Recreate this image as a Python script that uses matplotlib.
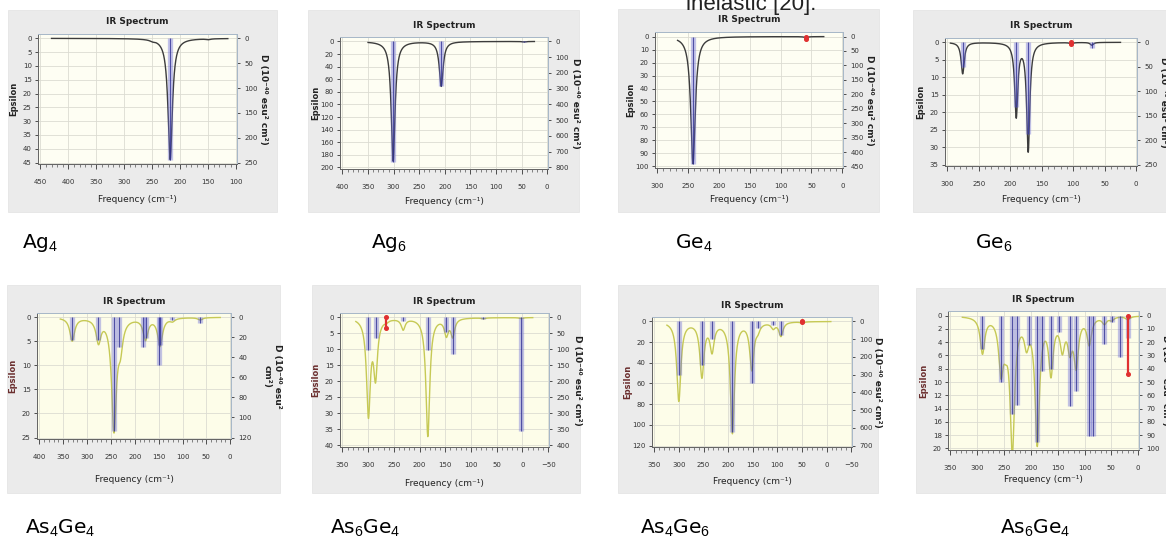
#IR spectra of small Ag, Ge and As-Ge clusters (8 panels, GaussView style)

import numpy as np
import matplotlib
matplotlib.use("Agg")
from matplotlib import pyplot as plt
from matplotlib.patches import Rectangle
from matplotlib.ticker import MultipleLocator

plt.rcParams['mathtext.fontset'] = 'custom'
plt.rcParams['mathtext.rm'] = 'Liberation Sans'
plt.rcParams['mathtext.it'] = 'Liberation Sans'

W, H = 1166, 545

# =============================================================================
# data
# curve peaks: frequency (cm-1), depth (epsilon); sticks: frequency, D value

# Ag4
ag4_peak_freq = [218, 250, 150]
ag4_peak_eps = [44.0, 0.4, 0.3]
ag4_gamma = 4.7
ag4_stick_freq = [218]
ag4_stick_d = [244]
ag4_red_freq = []
ag4_red_d = []
ag4_span = [430, 115]
ag4_xticks = [450, 400, 350, 300, 250, 200, 150, 100]
ag4_eps_ticks = [0, 5, 10, 15, 20, 25, 30, 35, 40, 45]
ag4_d_ticks = [0, 50, 100, 150, 200, 250]

# Ag6
ag6_peak_freq = [301, 207, 45]
ag6_peak_eps = [190.0, 71.0, 0.8]
ag6_gamma = 4.5
ag6_stick_freq = [301, 207, 45]
ag6_stick_d = [765, 285, 4]
ag6_red_freq = []
ag6_red_d = []
ag6_span = [350, 25]
ag6_xticks = [400, 350, 300, 250, 200, 150, 100, 50, 0]
ag6_eps_ticks = [0, 20, 40, 60, 80, 100, 120, 140, 160, 180, 200]
ag6_d_ticks = [0, 100, 200, 300, 400, 500, 600, 700, 800]

# Ge4
ge4_peak_freq = [242, 59]
ge4_peak_eps = [98.0, 0.6]
ge4_gamma = 4.4
ge4_stick_freq = [242]
ge4_stick_d = [440]
ge4_red_freq = [59]
ge4_red_d = [8]
ge4_span = [267, 30]
ge4_xticks = [300, 250, 200, 150, 100, 50, 0]
ge4_eps_ticks = [0, 10, 20, 30, 40, 50, 60, 70, 80, 90, 100]
ge4_d_ticks = [0, 50, 100, 150, 200, 250, 300, 350, 400, 450]

# Ge6
ge6_peak_freq = [275.5, 190.5, 171.5, 103, 70.5]
ge6_peak_eps = [9.0, 21.0, 31.0, 0.4, 0.8]
ge6_gamma = 3.0
ge6_stick_freq = [275.5, 190.5, 171.5, 70.5]
ge6_stick_d = [51, 133, 187, 12]
ge6_red_freq = [103]
ge6_red_d = [3]
ge6_span = [295, 25]
ge6_xticks = [300, 250, 200, 150, 100, 50, 0]
ge6_eps_ticks = [0, 5, 10, 15, 20, 25, 30, 35]
ge6_d_ticks = [0, 50, 100, 150, 200, 250]

# As4Ge4
as4ge4_peak_freq = [331, 276, 243.5, 230, 177.5, 147, 121, 63]
as4ge4_peak_eps = [4.8, 4.8, 23.0, 5.0, 4.4, 5.8, 0.6, 0.5]
as4ge4_gamma = 6.0
as4ge4_stick_freq = [331, 276, 243.5, 232, 182, 177.5, 150, 147, 121, 63]
as4ge4_stick_d = [23, 23, 113, 30, 30, 21, 48, 28, 3, 6]
as4ge4_red_freq = []
as4ge4_red_d = []
as4ge4_span = [356, 21]
as4ge4_xticks = [400, 350, 300, 250, 200, 150, 100, 50, 0]
as4ge4_eps_ticks = [0, 5, 10, 15, 20, 25]
as4ge4_d_ticks = [0, 20, 40, 60, 80, 100, 120]

# As6Ge4
as6ge4_peak_freq = [299.5, 285.7, 264.8, 232, 184, 148, 135.6, 76, 2.5]
as6ge4_peak_eps = [29.8, 17.5, 0.5, 3.4, 37.0, 5.0, 5.5, 0.3, 0.3]
as6ge4_gamma = 4.5
as6ge4_stick_freq = [299.5, 285.7, 232, 184, 148, 135.6, 76, 2.5]
as6ge4_stick_d = [102, 65, 10, 102, 44, 113, 5, 356]
as6ge4_red_freq = [264.8]
as6ge4_red_d = [34]
as6ge4_span = [324, -20]
as6ge4_xticks = [350, 300, 250, 200, 150, 100, 50, 0, -50]
as6ge4_eps_ticks = [0, 5, 10, 15, 20, 25, 30, 35, 40]
as6ge4_d_ticks = [0, 50, 100, 150, 200, 250, 300, 350, 400]

# As4Ge6
as4ge6_peak_freq = [300.3, 253.4, 232.8, 191.4, 152, 139.7, 108.6, 92.8, 50]
as4ge6_peak_eps = [76.5, 52.0, 26.5, 107.0, 45.0, 6.0, 5.5, 13.5, 1.0]
as4ge6_gamma = 5.0
as4ge6_stick_freq = [300.3, 253.4, 232.8, 191.4, 152, 139.7, 108.6, 92.8]
as4ge6_stick_d = [305, 248, 100, 625, 350, 40, 20, 79]
as4ge6_red_freq = [50]
as4ge6_red_d = [6]
as4ge6_span = [324.5, -8.6]
as4ge6_xticks = [350, 300, 250, 200, 150, 100, 50, 0, -50]
as4ge6_eps_ticks = [0, 20, 40, 60, 80, 100, 120]
as4ge6_d_ticks = [0, 100, 200, 300, 400, 500, 600, 700]

# As6Ge4 (second isomer)
as6ge4b_peak_freq = [290, 255.6, 247, 234.4, 208, 188, 162.5, 141.3, 127.3, 115.6, 91.2, 62.9, 49.4, 19.3]
as6ge4b_peak_eps = [5.4, 7.6, 2.5, 19.8, 3.5, 18.8, 8.1, 4.4, 4.3, 7.0, 4.0, 1.0, 0.5, 0.5]
as6ge4b_gamma = 5.0
as6ge4b_stick_freq = [290, 255.6, 234.4, 226, 202.7, 188, 178.5, 162.5, 147, 127.3, 115.6, 91.2, 83.5, 62.9, 49.4, 34, 19.3]
as6ge4b_stick_d = [25, 50, 74, 67, 22, 95, 42, 40, 12, 68, 57, 91, 91, 21, 5, 31, 17]
as6ge4b_red_freq = [19.3]
as6ge4b_red_d = [44]
as6ge4b_span = [327.5, -5]
as6ge4b_xticks = [350, 300, 250, 200, 150, 100, 50, 0]
as6ge4b_eps_ticks = [0, 2, 4, 6, 8, 10, 12, 14, 16, 18, 20]
as6ge4b_d_ticks = [0, 10, 20, 30, 40, 50, 60, 70, 80, 90, 100]

names = ['Ag$_\\mathrm{4}$', 'Ag$_\\mathrm{6}$', 'Ge$_\\mathrm{4}$', 'Ge$_\\mathrm{6}$',
         'As$_\\mathrm{4}$Ge$_\\mathrm{4}$', 'As$_\\mathrm{6}$Ge$_\\mathrm{4}$',
         'As$_\\mathrm{4}$Ge$_\\mathrm{6}$', 'As$_\\mathrm{6}$Ge$_\\mathrm{4}$']

# =============================================================================
# layout in pixels: plot frame (l, t, r, b), grey box, x label y, name position
layout = [
    dict(frame=(38, 34, 237, 164), box=(8, 10, 277, 212), xlab=200, rlab=263, name=(22, 243)),
    dict(frame=(340, 37, 548, 169), box=(308, 10, 579, 212), xlab=201, rlab=575, name=(371, 243)),
    dict(frame=(655, 32, 843, 168), box=(618, 9, 879, 212), xlab=200, rlab=870, name=(675, 243)),
    dict(frame=(945, 38, 1137, 166), box=(913, 10, 1166, 212), xlab=200, rlab=1163, name=(975, 243)),
    dict(frame=(37, 313, 231, 439), box=(7, 285, 280, 493), xlab=480, rlab=272, name=(25, 528)),
    dict(frame=(340, 313, 549, 447), box=(312, 285, 580, 493), xlab=483, rlab=577, name=(330, 528)),
    dict(frame=(652, 317, 852, 447), box=(618, 285, 878, 493), xlab=482, rlab=877, name=(640, 528)),
    dict(frame=(948, 311, 1139, 450), box=(916, 288, 1166, 493), xlab=480, rlab=1166, name=(1000, 528)),
]

panels = [
    (ag4_peak_freq, ag4_peak_eps, ag4_gamma, ag4_stick_freq, ag4_stick_d, ag4_red_freq, ag4_red_d, ag4_span, ag4_xticks, ag4_eps_ticks, ag4_d_ticks),
    (ag6_peak_freq, ag6_peak_eps, ag6_gamma, ag6_stick_freq, ag6_stick_d, ag6_red_freq, ag6_red_d, ag6_span, ag6_xticks, ag6_eps_ticks, ag6_d_ticks),
    (ge4_peak_freq, ge4_peak_eps, ge4_gamma, ge4_stick_freq, ge4_stick_d, ge4_red_freq, ge4_red_d, ge4_span, ge4_xticks, ge4_eps_ticks, ge4_d_ticks),
    (ge6_peak_freq, ge6_peak_eps, ge6_gamma, ge6_stick_freq, ge6_stick_d, ge6_red_freq, ge6_red_d, ge6_span, ge6_xticks, ge6_eps_ticks, ge6_d_ticks),
    (as4ge4_peak_freq, as4ge4_peak_eps, as4ge4_gamma, as4ge4_stick_freq, as4ge4_stick_d, as4ge4_red_freq, as4ge4_red_d, as4ge4_span, as4ge4_xticks, as4ge4_eps_ticks, as4ge4_d_ticks),
    (as6ge4_peak_freq, as6ge4_peak_eps, as6ge4_gamma, as6ge4_stick_freq, as6ge4_stick_d, as6ge4_red_freq, as6ge4_red_d, as6ge4_span, as6ge4_xticks, as6ge4_eps_ticks, as6ge4_d_ticks),
    (as4ge6_peak_freq, as4ge6_peak_eps, as4ge6_gamma, as4ge6_stick_freq, as4ge6_stick_d, as4ge6_red_freq, as4ge6_red_d, as4ge6_span, as4ge6_xticks, as4ge6_eps_ticks, as4ge6_d_ticks),
    (as6ge4b_peak_freq, as6ge4b_peak_eps, as6ge4b_gamma, as6ge4b_stick_freq, as6ge4b_stick_d, as6ge4b_red_freq, as6ge4b_red_d, as6ge4b_span, as6ge4b_xticks, as6ge4b_eps_ticks, as6ge4b_d_ticks),
]

# =============================================================================

def fx(x):
    return x / W

def fy(y):
    return 1 - y / H

def rect(l, t, r, b):
    return [l / W, 1 - b / H, (r - l) / W, (b - t) / H]

def broaden(x, freqs, depths, g):
    y = np.zeros_like(x)
    for f, a in zip(freqs, depths):
        y += a * g**2 / ((x - f)**2 + g**2)
    return y


fig = plt.figure(figsize=(W / 100, H / 100), dpi=100)

for i, (p, lay) in enumerate(zip(panels, layout)):
    pf, pe, g, sf, sd, rf, rd, span, xt, yt, dt = p
    bottom_row = i >= 4
    l, t, r, b = lay['frame']

    bl, bt, br, bb = lay['box']
    fig.add_artist(Rectangle((fx(bl), fy(bb)), (br - bl) / W, (bb - bt) / H,
                             facecolor='#ebebeb', edgecolor='#e2e2e2', lw=0.5,
                             transform=fig.transFigure, zorder=0))

    ax = fig.add_axes(rect(l, t, r, b))
    ax.set_facecolor('#fdfde9' if bottom_row else '#fefef3')
    xspan = xt[0] - xt[-1]
    ax.set_xlim(xt[0] + 0.012 * xspan, xt[-1] - 0.004 * xspan)
    ymax = yt[-1]
    ax.set_ylim(ymax * 1.012, -0.035 * ymax)
    ax.set_xticks(xt)
    ax.set_yticks(yt)
    ax.xaxis.set_minor_locator(MultipleLocator(10))
    ax.grid(True, which='major', color='#dcdcd2', lw=0.6)
    ax.set_axisbelow(True)

    ax2 = ax.twinx()
    dmax = dt[-1]
    ax2.set_ylim(dmax * 1.012, -0.035 * dmax)
    ax2.set_yticks(dt)

    # broadened spectrum
    x = np.linspace(span[0], span[1], 1500)
    curve_col = '#c6c955' if bottom_row else '#3c3c3c'
    ax.plot(x, broaden(x, pf, pe, g), color=curve_col, lw=1.0, zorder=3)

    # sticks
    ax2.vlines(sf, 0, sd, colors='#6a6ad8', alpha=0.4, lw=3.8)
    ax2.vlines(sf, 0, sd, colors='#2a2a90', alpha=0.75, lw=0.8)
    if rf:
        ax2.vlines(rf, 0, rd, colors='#e03030', lw=1.6)
        ax2.plot(rf, rd, 'o', color='#e03030', ms=2.6)
        ax2.plot(rf, [0] * len(rf), 'o', color='#e03030', ms=2.6)

    for a in (ax, ax2):
        for s in a.spines.values():
            s.set_color('#a8b8c8')
            s.set_linewidth(0.7)
        a.spines['left'].set_color('#666666')
        a.spines['bottom'].set_color('#666666')
    ax.tick_params(axis='x', which='major', labelsize=5, length=3.5, width=0.6,
                   pad=7, colors='#333333')
    ax.tick_params(axis='x', which='minor', length=2, width=0.5, color='#555555')
    ax.tick_params(axis='y', labelsize=5, length=2.5, width=0.6, pad=2, colors='#333333')
    ax2.tick_params(axis='y', labelsize=5, length=2.5, width=0.6, pad=3, colors='#333333')

    cx = (l + r) / 2
    cy = (t + b) / 2
    fig.text(fx(cx), fy(t - 12), 'IR Spectrum', fontsize=6.5, fontweight='bold',
             ha='center', va='center', color='#222222')
    fig.text(fx(cx), fy(lay['xlab']), 'Frequency (cm\u207b\u00b9)', fontsize=6.5,
             ha='center', va='center', color='#222222')
    fig.text(fx(l - 24), fy(cy), 'Epsilon', fontsize=6, fontweight='bold', rotation=90,
             ha='center', va='center', color='#6b2e2e' if bottom_row else '#222222')
    if i == 4:
        rtxt = 'D (10\u207b\u2074\u2070 esu\u00b2\ncm\u00b2)'
    else:
        rtxt = 'D (10\u207b\u2074\u2070 esu\u00b2 cm\u00b2)'
    fig.text(fx(lay['rlab']), fy(cy), rtxt, fontsize=6.5, fontweight='bold', rotation=270,
             ha='center', va='center', color='#222222', multialignment='center')

    nx, ny = lay['name']
    fig.text(fx(nx), fy(ny), names[i], fontsize=14.5, ha='left', va='center', color='black')

# caption remnant cut at the top edge
fig.text(fx(686), fy(10), 'inelastic [20].', fontsize=16, family='Liberation Sans',
         ha='left', va='baseline', color='#222222')

plt.savefig('out.png', dpi=100)
